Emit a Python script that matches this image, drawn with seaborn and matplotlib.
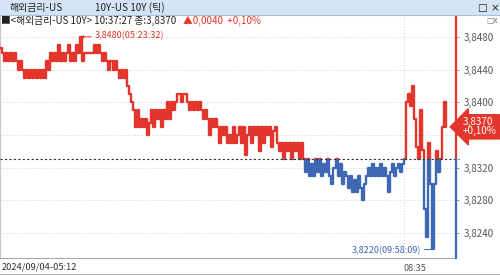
import numpy as np
import pandas as pd
import matplotlib
matplotlib.use("Agg")
import matplotlib.pyplot as plt
import seaborn as sns
from matplotlib.patches import Rectangle
from matplotlib.ticker import FuncFormatter

sns.set_style("white")
plt.rcParams["font.family"] = ["Noto Sans CJK KR", "DejaVu Sans"]

# ---------------- data (tick-by-tick yield) ----------------
yields = [
    3.8467, 3.8460,
    3.8450, 3.8460, 3.8450, 3.8460, 3.8450, 3.8460, 3.8450,
    3.8440, 3.8450, 3.8440,
    3.8430, 3.8440, 3.8430, 3.8440, 3.8430, 3.8440, 3.8430, 3.8440, 3.8430, 3.8440, 3.8430,
    3.8450, 3.8440,
    3.8460, 3.8450, 3.8460, 3.8450, 3.8470, 3.8450, 3.8460, 3.8450, 3.8460, 3.8470, 3.8450,
    3.8460, 3.8450, 3.8470, 3.8460,
    3.8480, 3.8450,
    3.8460, 3.8460, 3.8460, 3.8460, 3.8460,
    3.8470, 3.8460, 3.8470,
    3.8460, 3.8450, 3.8460,
    3.8450, 3.8440, 3.8450, 3.8440, 3.8450,
    3.8440, 3.8430, 3.8440, 3.8430, 3.8440,
    3.8420, 3.8410, 3.8400,
    3.8390, 3.8370, 3.8390, 3.8370, 3.8380,
    3.8370, 3.8380, 3.8360, 3.8375,
    3.8390, 3.8370, 3.8390, 3.8380, 3.8390, 3.8370, 3.8390, 3.8380,
    3.8400, 3.8380, 3.8400, 3.8390, 3.8400,
    3.8410, 3.8410, 3.8400, 3.8410, 3.8410,
    3.8400, 3.8390, 3.8400, 3.8390, 3.8400, 3.8390, 3.8400,
    3.8390, 3.8380, 3.8390,
    3.8380, 3.8360, 3.8380, 3.8370, 3.8380,
    3.8370, 3.8350, 3.8370, 3.8360, 3.8370, 3.8350, 3.8360, 3.8350, 3.8370, 3.8350,
    3.8360, 3.8370, 3.8350, 3.8370, 3.8335, 3.8360, 3.8370, 3.8350, 3.8370, 3.8360, 3.8370,
    3.8340, 3.8370, 3.8350, 3.8370, 3.8360, 3.8370, 3.8345, 3.8365, 3.8370, 3.8350,
    3.8340, 3.8350, 3.8330, 3.8350, 3.8340, 3.8350, 3.8330, 3.8350, 3.8340, 3.8350, 3.8330, 3.8350,
    3.8330, 3.8315, 3.8330, 3.8310, 3.8325, 3.8310, 3.8330, 3.8315, 3.8330, 3.8310, 3.8325,
    3.8315, 3.8330, 3.8310, 3.8300, 3.8320, 3.8330, 3.8310, 3.8325, 3.8300, 3.8315,
    3.8310, 3.8295, 3.8310, 3.8290, 3.8305, 3.8290, 3.8310, 3.8295, 3.8280, 3.8300,
    3.8310, 3.8320, 3.8310, 3.8325, 3.8310, 3.8320, 3.8310, 3.8325, 3.8310, 3.8320,
    3.8310, 3.8290, 3.8315, 3.8325, 3.8310, 3.8320, 3.8325, 3.8315, 3.8325, 3.8330,
    3.8400, 3.8410, 3.8395, 3.8420, 3.8380, 3.8345, 3.8330, 3.8390, 3.8342, 3.8270,
    3.8235, 3.8350, 3.8300, 3.8220, 3.8300, 3.8340, 3.8315, 3.8330, 3.8370, 3.8400, 3.8370,
]
prev_close = 3.8330
last_price = 3.8370
y_ticks = [3.8240, 3.8280, 3.8320, 3.8360, 3.8400, 3.8440, 3.8480]
hi_time = "05:23:32"
lo_time = "09:58:09"
start_label = "2024/09/04-05:12"
mid_label = "08:35"
mid_index = 201
title_left = "해외금리-US"
title_right = "10Y-US 10Y (틱)"
info_black = "■<해외금리-US 10Y> 10:37:27 종:3,8370"
info_red = "▲0,0040  +0,10%"
badge_text = "3,8370\n+0,10%"

RED = "#e3352b"
BLUE = "#3f68b4"

W, H = 500, 276
fig = plt.figure(figsize=(W / 100, H / 100), dpi=100)
fig.patch.set_facecolor("white")

ax_top_px, ax_bot_px, ax_right_px = 15, 258, 456
ax = fig.add_axes([0, 1 - ax_bot_px / H, ax_right_px / W, (ax_bot_px - ax_top_px) / H])
ax.set_facecolor("white")

n = len(yields)
df = pd.DataFrame({"i": np.arange(n), "y": yields})
xmax = (n - 1) * ax_right_px / 446.0
ylo, yhi = 3.82094, 3.85069
ax.set_xlim(0, xmax)
ax.set_ylim(ylo, yhi)

# grid
for v in y_ticks:
    ax.axhline(v, color="#cfcfcf", lw=0.7, ls=(0, (1, 2)), zorder=0)
ax.axvline(mid_index, color="#cfcfcf", lw=0.7, ls=(0, (1, 2)), zorder=0)

sns.lineplot(data=df, x="i", y="y", ax=ax, color=RED, lw=1.7,
             drawstyle="steps-post", estimator=None, zorder=3)
sns.lineplot(data=df, x="i", y="y", ax=ax, color=BLUE, lw=1.7,
             drawstyle="steps-post", estimator=None, zorder=3)
l_red, l_blue = ax.lines[-2], ax.lines[-1]
l_red.set_clip_path(Rectangle((-5, prev_close), xmax + 10, 1, transform=ax.transData))
l_blue.set_clip_path(Rectangle((-5, prev_close - 1), xmax + 10, 1, transform=ax.transData))

# previous close dashed line
ax.plot([0, xmax * 1.006], [prev_close, prev_close], color="#333333", lw=0.8,
        ls=(0, (2, 2)), clip_on=False, zorder=4)

# right axis line: red above prev close, blue below
ax.plot([xmax, xmax], [prev_close, yhi], color=RED, lw=1.6, clip_on=False, zorder=5)
ax.plot([xmax, xmax], [ylo, prev_close], color=BLUE, lw=1.6, clip_on=False, zorder=5)

# spines
for s in ["top", "right"]:
    ax.spines[s].set_visible(False)
ax.spines["bottom"].set_color("#a8a8a8")
ax.spines["bottom"].set_linewidth(0.8)
ax.spines["left"].set_color("#c8c8c8")
ax.spines["left"].set_linewidth(0.8)

# y ticks on right (the tick hidden under the price badge gets no label)
ax.yaxis.tick_right()
ax.set_yticks(y_ticks)
ax.yaxis.set_major_formatter(FuncFormatter(
    lambda v, p: "" if abs(v - 3.8360) < 1e-6 else f"{v:.4f}".replace(".", ",")))
ax.tick_params(axis="y", length=2.5, width=0.6, color="#888888", labelsize=7,
               labelcolor="#555555", pad=3, right=True, left=False)
ax.set_ylabel("")
ax.set_xlabel("")

# x ticks
ax.set_xticks([mid_index])
ax.set_xticklabels([mid_label])
ax.tick_params(axis="x", length=3, width=0.6, color="#888888", labelsize=6.5,
               labelcolor="#555555", pad=1)
for t in ax.get_xticklabels():
    t.set_ha("left")

# badge with last price
ax.text(xmax + 3.5, last_price, badge_text, color="white", fontsize=7.2, ha="left",
        va="center", linespacing=0.9, clip_on=False, zorder=10,
        bbox=dict(boxstyle="larrow,pad=0.25", fc=RED, ec=RED))

# high / low annotations
arr = np.array(yields)
hi_i, lo_i = int(np.argmax(arr)), int(np.argmin(arr))
ax.annotate(f"{arr[hi_i]:.4f}".replace(".", ",") + f"({hi_time})",
            xy=(hi_i, arr[hi_i]), xytext=(14, 1), textcoords="offset pixels",
            ha="left", va="center", color=RED, fontsize=6.5, zorder=6,
            arrowprops=dict(arrowstyle="-|>,head_length=0.25,head_width=0.12", color=RED,
                            lw=0.7, shrinkA=0, shrinkB=0))
ax.annotate(f"{arr[lo_i]:.4f}".replace(".", ",") + f"({lo_time})",
            xy=(lo_i + 0.5, arr[lo_i]), xytext=(-12, -1), textcoords="offset pixels",
            ha="right", va="center", color=BLUE, fontsize=6.5, zorder=6,
            arrowprops=dict(arrowstyle="-", color=BLUE, lw=0.7, shrinkA=0, shrinkB=0))

# header bar
fig.patches.append(Rectangle((0, 1 - 15 / H), 1, 15 / H, transform=fig.transFigure,
                             fc="#d4e4f4", ec="none", zorder=0))
fig.lines.append(plt.Line2D([0, 1], [1 - 15 / H, 1 - 15 / H], transform=fig.transFigure,
                            color="#a9c1dc", lw=0.8))
fig.text(10 / W, 1 - 7.5 / H, title_left, fontsize=7.2, va="center", ha="left", color="#222222")
fig.text(95 / W, 1 - 7.5 / H, title_right, fontsize=7.2, va="center", ha="left", color="#222222")
fig.text(478 / W, 1 - 7.5 / H, "□ ×", fontsize=7.5, va="center", ha="left", color="#222222",
         family=["DejaVu Sans"])

# info line
fig.text(1 / W, 1 - 20.5 / H, info_black, fontsize=7, va="center", ha="left", color="#222222")
fig.text(183 / W, 1 - 20.5 / H, info_red, fontsize=7, va="center", ha="left", color=RED)
fig.text(486 / W, 1 - 20 / H, "□x", fontsize=5.5, va="center", ha="left", color="#777777",
         family=["DejaVu Sans"])

# bottom band
fig.text(2 / W, 1 - 267 / H, start_label, fontsize=6.7, va="center", ha="left", color="#333333")
fig.lines.append(plt.Line2D([0, 1], [2 / H, 2 / H], transform=fig.transFigure,
                            color="#b8b8b8", lw=0.8))

fig.savefig("out.png", dpi=100)
